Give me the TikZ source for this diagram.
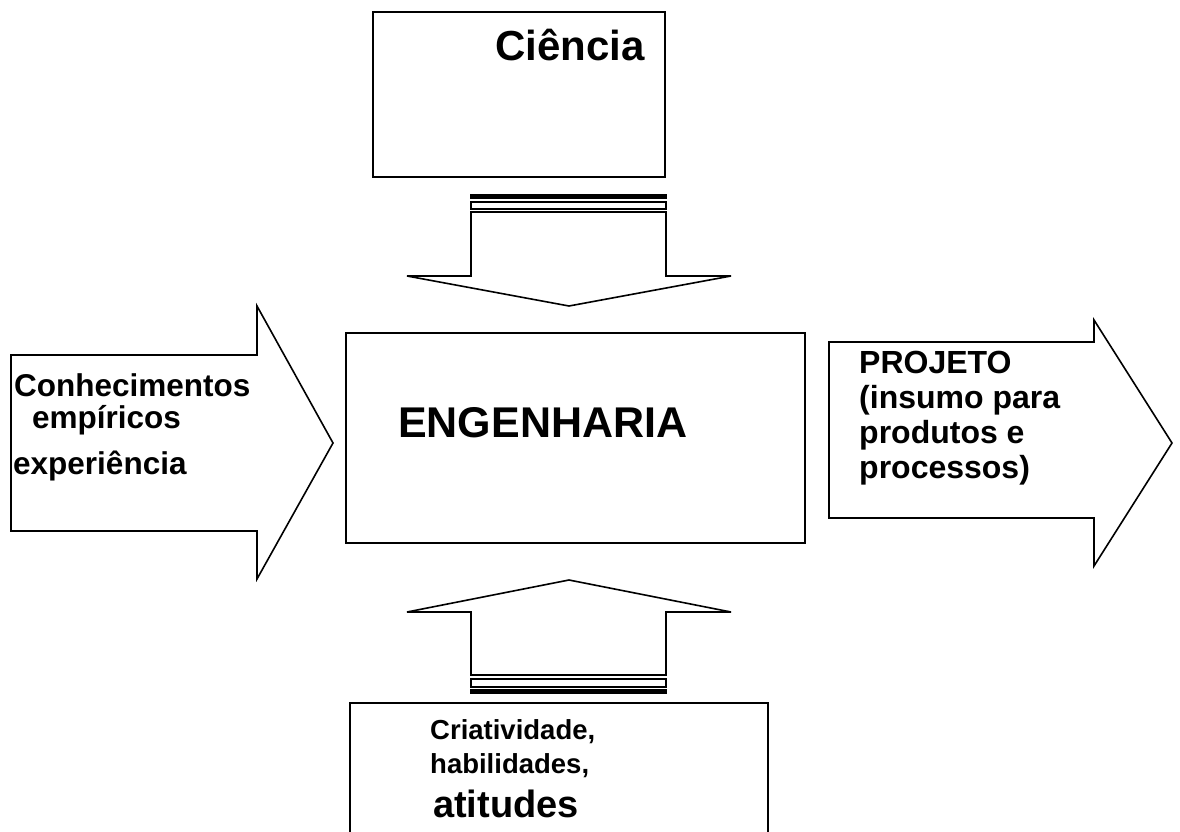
\documentclass[tikz,border=0pt]{standalone}
\usepackage{fontspec}
\setmainfont{Liberation Sans}
\newcommand{\fsz}[1]{\fontsize{#1}{#1}\selectfont\bfseries}

\begin{document}
\begin{tikzpicture}[x=1pt, y=-1pt,
		box/.style={draw, rectangle, line width=1.6pt, anchor=north west, inner sep=0pt},
		txt/.style={inner sep=0pt, anchor=base west, align=left},
		blockarrow/.style={draw, line width=1.6pt, line join=miter}]
				\useasboundingbox (0,0) rectangle (1180,832);
				\clip (0,0) rectangle (1180,832);
				% boxes
				\node[box, minimum width=292pt, minimum height=165pt] (Cie)at(372, 11) {};
				\node[box, minimum width=459pt, minimum height=210pt] (Eng)at(345, 332) {};
				\node[box, minimum width=418pt, minimum height=150pt] (Cri)at(349, 702) {};
				% block arrows
				\draw[blockarrow] (471,212) -- (666,212) -- (666,276) -- (731,276) -- (569,306) -- (407,276) -- (471,276) -- cycle;
				\fill (470,194) rectangle (667,199);
				\draw[line width=1.6pt] (471,202) rectangle (666,209);
				\draw[blockarrow] (569,580) -- (731,612) -- (666,612) -- (666,675) -- (471,675) -- (471,612) -- (407,612) -- cycle;
				\draw[line width=1.6pt] (471,679) rectangle (666,687);
				\fill (470,689) rectangle (667,694);
				\draw[blockarrow] (11,355) -- (257,355) -- (257,306) -- (333,443) -- (257,579) -- (257,531) -- (11,531) -- cycle;
				\draw[blockarrow] (829,342) -- (1094,342) -- (1094,320) -- (1172,443) -- (1094,566) -- (1094,518) -- (829,518) -- cycle;
				% labels
				\node[txt, font=\fsz{42}] (cie)at(495, 61) {Ciência};
				\node[txt, font=\fsz{43}] (eng)at(398, 437) {ENGENHARIA};
				\node[txt, font=\fsz{31.5}] (con)at(14, 396) {Conhecimentos};
				\node[txt, font=\fsz{31.5}] (emp)at(32, 428) {empíricos};
				\node[txt, font=\fsz{31.5}] (exp)at(13, 474) {experiência};
				\node[txt, font=\fsz{32}] (pro)at(859, 373) {PROJETO};
				\node[txt, font=\fsz{32}] (ins)at(859, 408) {(insumo para};
				\node[txt, font=\fsz{32}] (prd)at(859, 443) {produtos e};
				\node[txt, font=\fsz{32}] (prc)at(859, 478) {processos)};
				\node[txt, font=\fsz{27.5}] (cri)at(430, 739) {Criatividade,};
				\node[txt, font=\fsz{27.5}] (hab)at(430, 773) {habilidades,};
				\node[txt, font=\fsz{38}] (ati)at(433, 817) {atitudes};
			\end{tikzpicture}
\end{document}
